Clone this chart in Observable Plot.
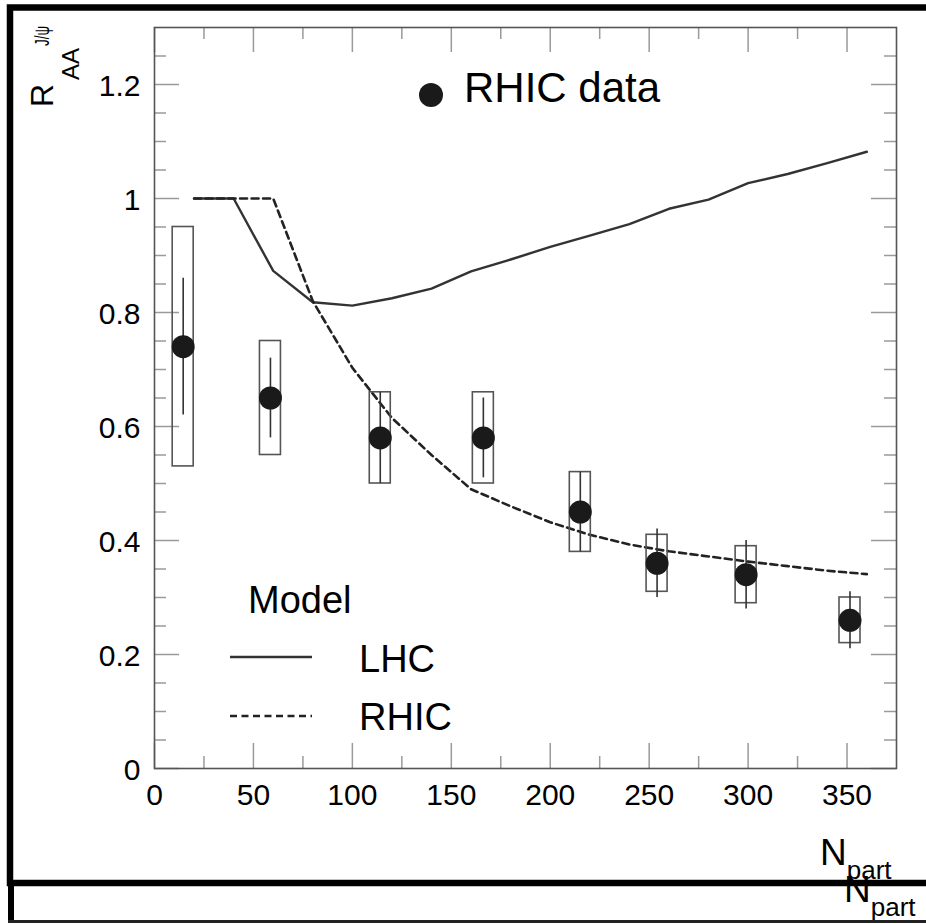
<!DOCTYPE html>
<html><head><meta charset="utf-8">
<script src="https://cdn.jsdelivr.net/npm/d3@7"></script>
<script src="https://cdn.jsdelivr.net/npm/@observablehq/plot@0.6"></script>
<style>body{margin:0;background:#fff} svg{display:block}</style>
</head><body><div id="chart"></div>
<script>
// ---- data ----
const npart   = [14.5, 58.6, 114.1, 166.2, 215.2, 254.0, 299.0, 351.5];
const raa     = [0.74, 0.65, 0.58, 0.58, 0.45, 0.36, 0.34, 0.26];
const statErr = [0.12, 0.07, 0.08, 0.07, 0.07, 0.06, 0.06, 0.05];
const systErr = [0.21, 0.10, 0.08, 0.08, 0.07, 0.05, 0.05, 0.04];

const modelNpart = [20, 40, 60, 80, 100, 120, 140, 160, 180, 200, 220, 240, 260, 280, 300, 320, 340, 360];
const lhcModel   = [1.0, 1.0, 0.873, 0.818, 0.812, 0.825, 0.842, 0.872, 0.893, 0.915, 0.935, 0.955, 0.982, 0.998, 1.027, 1.043, 1.062, 1.082];
const rhicModel  = [1.0, 1.0, 1.0, 0.82, 0.703, 0.615, 0.55, 0.49, 0.46, 0.432, 0.41, 0.393, 0.381, 0.372, 0.363, 0.355, 0.347, 0.341];

const xTicks      = [0, 50, 100, 150, 200, 250, 300, 350];
const xMinorTicks = [25, 75, 125, 175, 225, 275, 325];
const yTicks      = [0, 0.2, 0.4, 0.6, 0.8, 1, 1.2];
const yMinorTicks = [0.05, 0.1, 0.15, 0.25, 0.3, 0.35, 0.45, 0.5, 0.55, 0.65, 0.7, 0.75, 0.85, 0.9, 0.95, 1.05, 1.1, 1.15, 1.25];

const dataLabel = "RHIC data";
const modelTitle = "Model";
const modelLabels = ["LHC", "RHIC"];

// ---- tables built from the arrays ----
const points = npart.map((x, i) => ({x, y: raa[i], stat: statErr[i], syst: systErr[i]}));
const lhc = modelNpart.map((x, i) => ({x, y: lhcModel[i]}));
const rhic = modelNpart.map((x, i) => ({x, y: rhicModel[i]}));

const FONT = "'Liberation Sans', Arial, Helvetica, sans-serif";
const W = 926, H = 924, ML = 154, MR = 30, MT = 27, MB = 156;
const PW = W - ML - MR, PH = H - MT - MB;
const tickCol = "#9a9a9a";

const chart = Plot.plot({
  width: W, height: H,
  marginLeft: ML, marginRight: MR, marginTop: MT, marginBottom: MB,
  style: {fontFamily: FONT, background: "white", color: "black"},
  x: {domain: [0, 375]},
  y: {domain: [0, 1.3]},
  marks: [
    // ticks (inside the frame, both sides)
    Plot.ruleX(xTicks, {stroke: tickCol, strokeWidth: 1.5, insetTop: PH - 25}),
    Plot.ruleX(xMinorTicks, {stroke: tickCol, strokeWidth: 1.5, insetTop: PH - 12}),
    Plot.ruleX(xTicks, {stroke: tickCol, strokeWidth: 1.5, insetBottom: PH - 25}),
    Plot.ruleX(xMinorTicks, {stroke: tickCol, strokeWidth: 1.5, insetBottom: PH - 12}),
    Plot.ruleY(yTicks, {stroke: tickCol, strokeWidth: 1.5, insetRight: PW - 25}),
    Plot.ruleY(yMinorTicks, {stroke: tickCol, strokeWidth: 1.5, insetRight: PW - 12}),
    Plot.ruleY(yTicks, {stroke: tickCol, strokeWidth: 1.5, insetLeft: PW - 25}),
    Plot.ruleY(yMinorTicks, {stroke: tickCol, strokeWidth: 1.5, insetLeft: PW - 12}),
    Plot.frame({stroke: "#555", strokeWidth: 1.6}),
    Plot.axisX(xTicks, {tickSize: 0, tickPadding: 15, fontSize: 30, label: null, tickFormat: d => String(d)}),
    Plot.axisY(yTicks, {tickSize: 0, tickPadding: 14, fontSize: 30, label: null, tickFormat: d => String(d), dy: 2}),
    // models
    Plot.line(lhc, {x: "x", y: "y", stroke: "#333", strokeWidth: 2.4}),
    Plot.line(rhic, {x: "x", y: "y", stroke: "#222", strokeWidth: 2.6, strokeDasharray: "7,4.5"}),
    // systematic boxes
    Plot.rect(points, {x1: "x", x2: "x", y1: d => d.y - d.syst, y2: d => d.y + d.syst,
      insetLeft: -10.5, insetRight: -10.5, fill: "none", stroke: "#555", strokeWidth: 1.6}),
    // statistical errors
    Plot.ruleX(points, {x: "x", y1: d => d.y - d.stat, y2: d => d.y + d.stat, stroke: "#333", strokeWidth: 1.6}),
    Plot.dot(points, {x: "x", y: "y", r: 11.5, fill: "#1a1a1a", stroke: "none"})
  ]
});
document.getElementById("chart").appendChild(chart);

const svg = d3.select(chart);
const ov = svg.append("g").attr("font-family", FONT).attr("fill", "black").attr("text-anchor", "start");

// y-axis title (rotated)
const yt = ov.append("g").attr("transform", "translate(53,107) rotate(-90)");
yt.append("text").attr("font-size", 32).text("R");
yt.append("text").attr("x", 27).attr("y", 26).attr("font-size", 24).text("AA");
yt.append("text").attr("x", 61).attr("y", -4).attr("font-size", 20)
  .attr("textLength", 20).attr("lengthAdjust", "spacingAndGlyphs").text("J/\u03C8");

// x-axis titles (second copy clipped by the box border)
function npartTitle(x, y) {
  const t = ov.append("text").attr("x", x).attr("y", y).attr("font-size", 37);
  t.append("tspan").text("N");
  t.append("tspan").attr("font-size", 26).attr("dy", 14).text("part");
}
npartTitle(820, 865);
npartTitle(844, 902);

// legend
ov.append("circle").attr("cx", 431).attr("cy", 95).attr("r", 12).attr("fill", "#1a1a1a");
ov.append("text").attr("x", 464).attr("y", 102).attr("font-size", 42).text(dataLabel);
ov.append("text").attr("x", 248).attr("y", 613).attr("font-size", 38).text(modelTitle);
ov.append("line").attr("x1", 230).attr("x2", 312).attr("y1", 657).attr("y2", 657)
  .attr("stroke", "#333").attr("stroke-width", 2.4);
ov.append("text").attr("x", 359).attr("y", 672).attr("font-size", 38).text(modelLabels[0]);
ov.append("line").attr("x1", 230).attr("x2", 312).attr("y1", 716).attr("y2", 716)
  .attr("stroke", "#222").attr("stroke-width", 2.6).attr("stroke-dasharray", "7,4.5");
ov.append("text").attr("x", 359).attr("y", 730).attr("font-size", 38).text(modelLabels[1]);

// outer figure boxes
const bx = svg.append("g").attr("fill", "none").attr("stroke", "#000");
bx.append("rect").attr("x", 10).attr("y", 7.5).attr("width", 1000).attr("height", 875.5).attr("stroke-width", 6.5);
bx.append("line").attr("x1", 11).attr("x2", 11).attr("y1", 883).attr("y2", 923).attr("stroke-width", 6);
bx.append("line").attr("x1", 8).attr("x2", 926).attr("y1", 921.5).attr("y2", 921.5).attr("stroke-width", 3).attr("stroke", "#222");
</script>
</body></html>
